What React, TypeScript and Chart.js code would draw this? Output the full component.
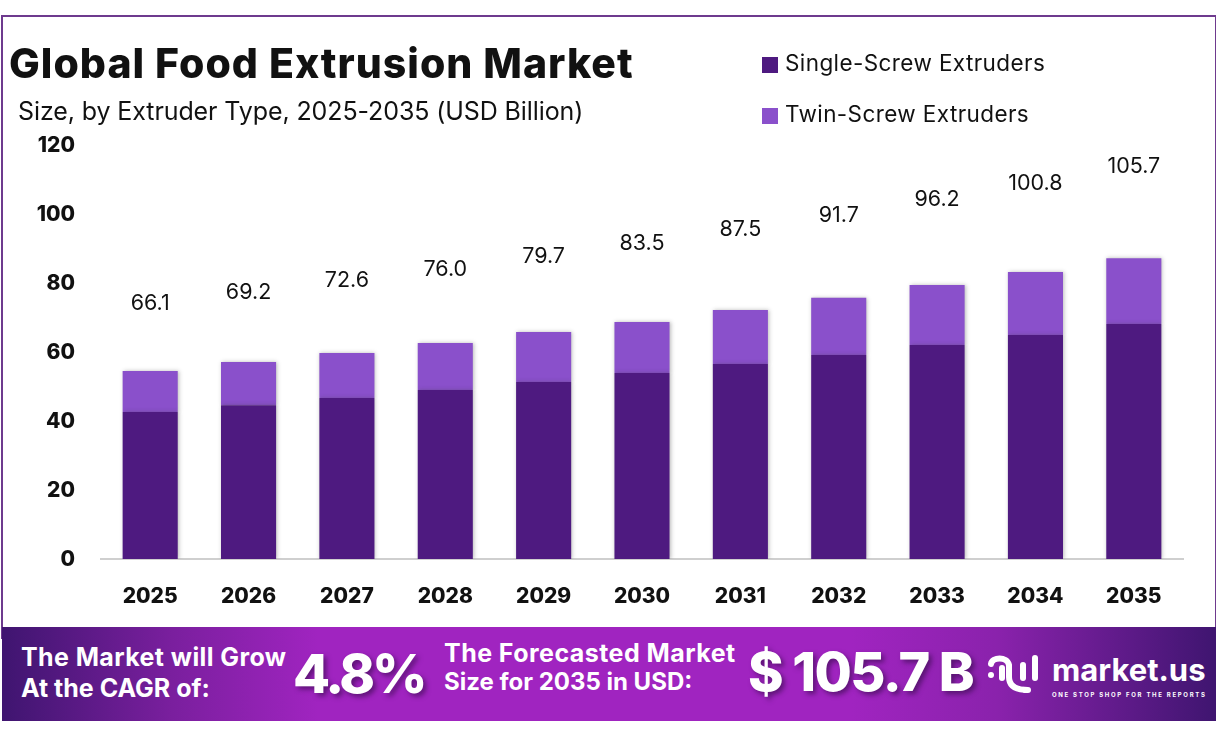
import { useEffect, useRef, type CSSProperties } from 'react';
import { Chart, registerables, type Plugin } from 'chart.js';

Chart.register(...registerables);

const years = ['2025', '2026', '2027', '2028', '2029', '2030', '2031', '2032', '2033', '2034', '2035'];
const singleScrew = [42.6, 44.6, 46.7, 49.0, 51.3, 53.9, 56.5, 59.1, 62.0, 64.9, 68.1];
const twinScrew = [11.9, 12.5, 13.0, 13.6, 14.5, 14.8, 15.7, 16.6, 17.4, 18.3, 19.1];
const totals = [66.1, 69.2, 72.6, 76.0, 79.7, 83.5, 87.5, 91.7, 96.2, 100.8, 105.7];
const yTicks = [0, 20, 40, 60, 80, 100, 120];

const seriesNames = ['Single-Screw Extruders', 'Twin-Screw Extruders'];
const seriesColors = ['#4e1a80', '#8a50cb'];

const FONT = 'Inter, sans-serif';

// soft shadow around the stacked bars
const barShadow: Plugin = {
  id: 'barShadow',
  beforeDatasetDraw(chart, args) {
    if (args.index > 1) return;
    chart.ctx.save();
    chart.ctx.shadowColor = 'rgba(60,60,60,0.35)';
    chart.ctx.shadowBlur = 4;
    chart.ctx.shadowOffsetX = 1;
  },
  afterDatasetDraw(chart, args) {
    if (args.index > 1) return;
    chart.ctx.restore();
  },
};

// total labels float above the hidden totals line
const totalLabels: Plugin = {
  id: 'totalLabels',
  afterDatasetsDraw(chart) {
    const { ctx } = chart;
    const meta = chart.getDatasetMeta(2);
    ctx.save();
    ctx.font = `400 21.5px ${FONT}`;
    ctx.fillStyle = '#111';
    ctx.textAlign = 'center';
    ctx.textBaseline = 'middle';
    meta.data.forEach((pt, i) => {
      ctx.fillText(totals[i].toFixed(1), pt.x, pt.y - 27.5);
    });
    ctx.restore();
  },
};

const Txt = ({ x, y, size, weight = 400, color = '#111', spacing = 0, shadow, children }: {
  x: number;
  y: number;
  size: number;
  weight?: number;
  color?: string;
  spacing?: number;
  shadow?: string;
  children: string;
}) => {
  const style: CSSProperties = {
    position: 'absolute',
    left: x,
    top: y,
    transform: 'translateY(-50%)',
    fontFamily: FONT,
    fontSize: size,
    fontWeight: weight,
    color,
    letterSpacing: spacing,
    textShadow: shadow,
    whiteSpace: 'nowrap',
    lineHeight: 1,
  };
  return <div style={style}>{children}</div>;
};

const Logo = () => (
  <svg style={{ position: 'absolute', left: 984, top: 652 }} width={58} height={44} viewBox="0 0 58 44" fill="none" stroke="#fff" strokeWidth="6" strokeLinecap="round">
    <path d="M7 12 C8 5 23 4 25 13 L25 25 C25 34 32 38 44 38" />
    <path d="M18 16 L18 26" />
    <path d="M39 13 L39 26" />
    <path d="M51 6 L51 26" />
    <circle cx="7" cy="23" r="3" fill="#fff" stroke="none" />
  </svg>
);

export default function App() {
  const canvasRef = useRef<HTMLCanvasElement | null>(null);

  useEffect(() => {
    if (!canvasRef.current) return;

    const chart = new Chart(canvasRef.current, {
      type: 'bar',
      data: {
        labels: years,
        datasets: [
          { label: seriesNames[0], data: singleScrew, backgroundColor: seriesColors[0] },
          { label: seriesNames[1], data: twinScrew, backgroundColor: seriesColors[1] },
          {
            type: 'line',
            label: 'Total',
            data: totals,
            borderColor: 'transparent',
            backgroundColor: 'transparent',
            pointRadius: 0,
          },
        ],
      } as any,
      options: {
        responsive: false,
        animation: false,
        layout: { padding: { top: 145, left: 30, right: 33, bottom: 128 } },
        categoryPercentage: 0.56,
        barPercentage: 1,
        plugins: {
          legend: { display: false },
          title: { display: false },
          tooltip: { enabled: false },
        },
        scales: {
          x: {
            stacked: true,
            grid: { display: false, drawTicks: false },
            border: { color: '#cfcfcf', width: 2 },
            ticks: {
              padding: 25,
              color: '#111',
              font: { family: FONT, size: 21, weight: 800 },
              maxRotation: 0,
            },
            afterFit: (scale: any) => {
              scale.height = 50;
            },
          },
          y: {
            stacked: true,
            min: 0,
            max: 120,
            grid: { display: false, drawTicks: false },
            border: { display: false },
            afterBuildTicks: (scale: any) => {
              scale.ticks = yTicks.map((value) => ({ value }));
            },
            ticks: {
              padding: 26,
              labelOffset: 0.7,
              color: '#111',
              font: { family: FONT, size: 21, weight: 800 },
            },
            afterFit: (scale: any) => {
              scale.width = 71;
            },
          },
        },
      } as any,
      plugins: [barShadow, totalLabels],
    });

    return () => {
      chart.destroy();
    };
  }, []);

  const bigShadow = '3px 3px 5px rgba(50,10,70,0.6)';

  return (
    <div style={{ position: 'absolute', left: 0, top: 0, width: 1216, height: 737, background: '#fff', overflow: 'hidden' }}>
      {/* frame */}
      <div style={{ position: 'absolute', left: 1, top: 15, width: 1212, height: 620, border: '2px solid #6e3a8e', boxSizing: 'content-box' }} />
      <canvas ref={canvasRef} width={1216} height={737} style={{ position: 'absolute', left: 0, top: 0, display: 'block' }} />

      <Txt x={9} y={63} size={41} weight={800} spacing={1}>Global Food Extrusion Market</Txt>
      <Txt x={18} y={111} size={25} spacing={-0.1}>Size, by Extruder Type, 2025-2035 (USD Billion)</Txt>

      {/* legend */}
      {seriesNames.map((name, i) => (
        <div key={name}>
          <div style={{ position: 'absolute', left: 762, top: 57 + i * 51, width: 16, height: 16, background: seriesColors[i] }} />
          <Txt x={785} y={63 + i * 51} size={22.5} spacing={0.4}>{name}</Txt>
        </div>
      ))}

      {/* banner */}
      <div style={{
        position: 'absolute', left: 2, top: 627, width: 1214, height: 94,
        background: 'linear-gradient(90deg, #3f1570 0%, #7a1f9e 14%, #a024c0 26%, #a024c0 70%, #8a22ac 82%, #3f1570 100%)',
      }} />
      <Txt x={21} y={657} size={25} weight={700} color="#fff" spacing={0.4}>The Market will Grow</Txt>
      <Txt x={21} y={688} size={25} weight={700} color="#fff">At the CAGR of:</Txt>
      <Txt x={293} y={674} size={54} weight={800} color="#fff" spacing={-3.2} shadow={bigShadow}>4.8%</Txt>
      <Txt x={444} y={653} size={25} weight={700} color="#fff" spacing={0.45}>The Forecasted Market</Txt>
      <Txt x={444} y={682} size={24} weight={700} color="#fff">Size for 2035 in USD:</Txt>
      <Txt x={748} y={672} size={54} weight={800} color="#fff" spacing={-1.6} shadow={bigShadow}>$ 105.7 B</Txt>
      <Logo />
      <Txt x={1052} y={669} size={31} weight={700} color="#fff">market.us</Txt>
      <Txt x={1052} y={695} size={6} weight={700} color="#fff" spacing={1.7}>ONE STOP SHOP FOR THE REPORTS</Txt>
    </div>
  );
}
